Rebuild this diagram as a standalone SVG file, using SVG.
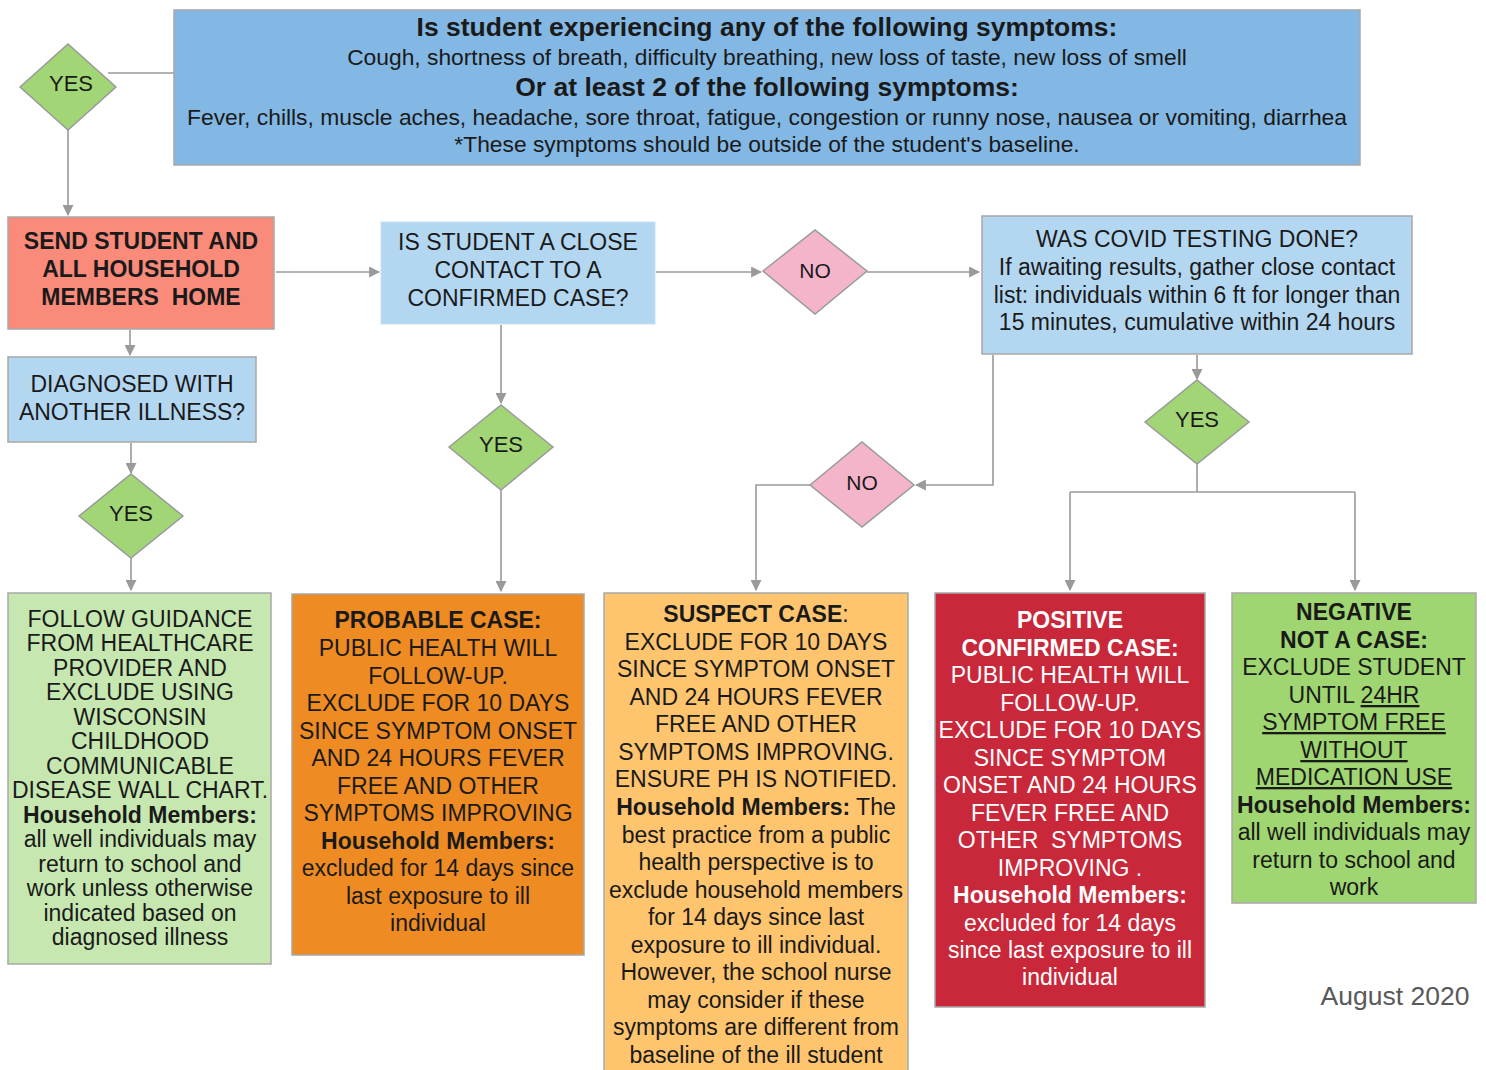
<svg xmlns="http://www.w3.org/2000/svg" width="1486" height="1070" viewBox="0 0 1486 1070">
<style>
text{font-family:"Liberation Sans",Arial,sans-serif;fill:#1a1a1a;text-anchor:middle}
.b{font-weight:bold}
.box{stroke:#a8a8a8;stroke-width:1.5}
.dia{stroke:#9a9a9a;stroke-width:1.5}
.yes{fill:#a2d576}
.no{fill:#f4b5ca}
.lb{fill:#b4d7f1}
.con{fill:none;stroke:#9a9a9a;stroke-width:1.6}
.t22{font-size:23px}
.t21{font-size:23px}
.w text,.w{fill:#ffffff}
.u{text-decoration:underline}
</style>
<defs>
<marker id="ah" viewBox="0 0 10 10" refX="9" refY="5" markerWidth="11" markerHeight="11" markerUnits="userSpaceOnUse" orient="auto">
<path d="M0,0 L10,5 L0,10 z" fill="#9a9a9a"/>
</marker>
</defs>
<rect width="1486" height="1070" fill="#ffffff"/>

<g id="connectors">
<path class="con" d="M108,73 H174"/>
<path class="con" d="M68,130 V215" marker-end="url(#ah)"/>
<path class="con" d="M276,272 H379" marker-end="url(#ah)"/>
<path class="con" d="M656,272 H761" marker-end="url(#ah)"/>
<path class="con" d="M867,272 H979" marker-end="url(#ah)"/>
<path class="con" d="M130,330 V355" marker-end="url(#ah)"/>
<path class="con" d="M131,443 V473" marker-end="url(#ah)"/>
<path class="con" d="M131,558 V590" marker-end="url(#ah)"/>
<path class="con" d="M501,325 V403" marker-end="url(#ah)"/>
<path class="con" d="M501,490 V591" marker-end="url(#ah)"/>
<path class="con" d="M1197,355 V379" marker-end="url(#ah)"/>
<path class="con" d="M1197,464 V492 M1070,492 H1355"/>
<path class="con" d="M1070,492 V590" marker-end="url(#ah)"/>
<path class="con" d="M1355,492 V590" marker-end="url(#ah)"/>
<path class="con" d="M993,355 V485 H916" marker-end="url(#ah)"/>
<path class="con" d="M810,485 H756 V590" marker-end="url(#ah)"/>
</g>

<g id="symptoms">
<rect class="box" x="174" y="10" width="1186" height="155" fill="#83b8e4"/>
<text class="b" x="767" y="36" font-size="26.5">Is student experiencing any of the following symptoms:</text>
<text x="767" y="65" font-size="22.8">Cough, shortness of breath, difficulty breathing, new loss of taste, new loss of smell</text>
<text class="b" x="767" y="96" font-size="26.5">Or at least 2 of the following symptoms:</text>
<text x="767" y="125" font-size="22" textLength="1160" lengthAdjust="spacingAndGlyphs">Fever, chills, muscle aches, headache, sore throat, fatigue, congestion or runny nose, nausea or vomiting, diarrhea</text>
<text x="767" y="152" font-size="22.8">*These symptoms should be outside of the student's baseline.</text>
</g>

<g id="yes-top">
<polygon class="dia yes" points="20,87 68,44 116,87 68,130"/>
<text x="71" y="91" font-size="22">YES</text>
</g>

<g id="send-home">
<rect class="box" x="8" y="217" width="266" height="112" fill="#fa8b7b" stroke="#f3a094"/>
<text class="b t22" x="141" y="249">SEND STUDENT AND</text>
<text class="b t22" x="141" y="277">ALL HOUSEHOLD</text>
<text class="b t22" x="141" y="305" xml:space="preserve">MEMBERS  HOME</text>
</g>

<g id="close-contact">
<rect class="lb" x="381" y="222" width="274" height="102" stroke="#c6e0f4" stroke-width="1"/>
<text class="t22" x="518" y="250">IS STUDENT A CLOSE</text>
<text class="t22" x="518" y="278">CONTACT TO A</text>
<text class="t22" x="518" y="306">CONFIRMED CASE?</text>
</g>

<g id="no-1">
<polygon class="dia no" points="763,271 815,230 867,271 815,314"/>
<text x="815" y="278" font-size="21">NO</text>
</g>

<g id="covid-testing">
<rect class="box lb" x="982" y="216" width="430" height="138"/>
<text class="t21" x="1197" y="247">WAS COVID TESTING DONE?</text>
<text class="t21" x="1197" y="275">If awaiting results, gather close contact</text>
<text class="t21" x="1197" y="303">list: individuals within 6 ft for longer than</text>
<text class="t21" x="1197" y="330">15 minutes, cumulative within 24 hours</text>
</g>

<g id="diagnosed">
<rect class="box lb" x="8" y="357" width="248" height="85"/>
<text class="t22" x="132" y="392">DIAGNOSED WITH</text>
<text class="t22" x="132" y="420">ANOTHER ILLNESS?</text>
</g>

<g id="yes-diagnosed">
<polygon class="dia yes" points="79,516 131,474 183,516 131,558"/>
<text x="131" y="521" font-size="22">YES</text>
</g>

<g id="yes-contact">
<polygon class="dia yes" points="449,447 501,405 553,447 501,490"/>
<text x="501" y="452" font-size="22">YES</text>
</g>

<g id="yes-testing">
<polygon class="dia yes" points="1145,422 1197,380 1249,422 1197,464"/>
<text x="1197" y="427" font-size="22">YES</text>
</g>

<g id="no-2">
<polygon class="dia no" points="810,485 862,442 914,485 862,527"/>
<text x="862" y="490" font-size="21">NO</text>
</g>

<g id="other-illness">
<rect class="box" x="8" y="593" width="263" height="371" fill="#c6e8b0"/>
<text class="t22" x="140" y="627">FOLLOW GUIDANCE</text>
<text class="t22" x="140" y="651">FROM HEALTHCARE</text>
<text class="t22" x="140" y="676">PROVIDER AND</text>
<text class="t22" x="140" y="700">EXCLUDE USING</text>
<text class="t22" x="140" y="725">WISCONSIN</text>
<text class="t22" x="140" y="749">CHILDHOOD</text>
<text class="t22" x="140" y="774">COMMUNICABLE</text>
<text class="t22" x="140" y="798">DISEASE WALL CHART.</text>
<text class="t22 b" x="140" y="823">Household Members:</text>
<text class="t22" x="140" y="847">all well individuals may</text>
<text class="t22" x="140" y="872">return to school and</text>
<text class="t22" x="140" y="896">work unless otherwise</text>
<text class="t22" x="140" y="921">indicated based on</text>
<text class="t22" x="140" y="945">diagnosed illness</text>
</g>

<g id="probable">
<rect class="box" x="292" y="594" width="292" height="361" fill="#ee8b22"/>
<text class="t22 b" x="438" y="628">PROBABLE CASE:</text>
<text class="t22" x="438" y="656">PUBLIC HEALTH WILL</text>
<text class="t22" x="438" y="684">FOLLOW-UP.</text>
<text class="t22" x="438" y="711">EXCLUDE FOR 10 DAYS</text>
<text class="t22" x="438" y="739">SINCE SYMPTOM ONSET</text>
<text class="t22" x="438" y="766">AND 24 HOURS FEVER</text>
<text class="t22" x="438" y="794">FREE AND OTHER</text>
<text class="t22" x="438" y="821">SYMPTOMS IMPROVING</text>
<text class="t22 b" x="438" y="849">Household Members:</text>
<text class="t22" x="438" y="876">excluded for 14 days since</text>
<text class="t22" x="438" y="904">last exposure to ill</text>
<text class="t22" x="438" y="931">individual</text>
</g>

<g id="suspect">
<rect class="box" x="604" y="593" width="304" height="490" fill="#fec46e"/>
<text class="t22" x="756" y="622"><tspan class="b">SUSPECT CASE</tspan>:</text>
<text class="t22" x="756" y="650">EXCLUDE FOR 10 DAYS</text>
<text class="t22" x="756" y="677">SINCE SYMPTOM ONSET</text>
<text class="t22" x="756" y="705">AND 24 HOURS FEVER</text>
<text class="t22" x="756" y="732">FREE AND OTHER</text>
<text class="t22" x="756" y="760">SYMPTOMS IMPROVING.</text>
<text class="t22" x="756" y="787">ENSURE PH IS NOTIFIED.</text>
<text class="t22" x="756" y="815"><tspan class="b">Household Members:</tspan> The</text>
<text class="t22" x="756" y="843">best practice from a public</text>
<text class="t22" x="756" y="870">health perspective is to</text>
<text class="t22" x="756" y="898">exclude household members</text>
<text class="t22" x="756" y="925">for 14 days since last</text>
<text class="t22" x="756" y="953">exposure to ill individual.</text>
<text class="t22" x="756" y="980">However, the school nurse</text>
<text class="t22" x="756" y="1008">may consider if these</text>
<text class="t22" x="756" y="1035">symptoms are different from</text>
<text class="t22" x="756" y="1063">baseline of the ill student</text>
</g>

<g id="positive" class="w">
<rect class="box" x="935" y="593" width="270" height="414" fill="#c8283a"/>
<text class="t22 b w" x="1070" y="628">POSITIVE</text>
<text class="t22 b w" x="1070" y="656">CONFIRMED CASE:</text>
<text class="t22 w" x="1070" y="683">PUBLIC HEALTH WILL</text>
<text class="t22 w" x="1070" y="711">FOLLOW-UP.</text>
<text class="t22 w" x="1070" y="738">EXCLUDE FOR 10 DAYS</text>
<text class="t22 w" x="1070" y="766">SINCE SYMPTOM</text>
<text class="t22 w" x="1070" y="793">ONSET AND 24 HOURS</text>
<text class="t22 w" x="1070" y="821">FEVER FREE AND</text>
<text class="t22 w" x="1070" y="848" xml:space="preserve">OTHER  SYMPTOMS</text>
<text class="t22 w" x="1070" y="876">IMPROVING .</text>
<text class="t22 b w" x="1070" y="903">Household Members:</text>
<text class="t22 w" x="1070" y="931">excluded for 14 days</text>
<text class="t22 w" x="1070" y="958">since last exposure to ill</text>
<text class="t22 w" x="1070" y="985">individual</text>
</g>

<g id="negative">
<rect class="box" x="1232" y="593" width="244" height="310" fill="#9fd672"/>
<text class="t22 b" x="1354" y="620">NEGATIVE</text>
<text class="t22 b" x="1354" y="648">NOT A CASE:</text>
<text class="t22" x="1354" y="675">EXCLUDE STUDENT</text>
<text class="t22" x="1354" y="703">UNTIL <tspan class="u">24HR</tspan></text>
<text class="t22 u" x="1354" y="730">SYMPTOM FREE</text>
<text class="t22 u" x="1354" y="758">WITHOUT</text>
<text class="t22 u" x="1354" y="785">MEDICATION USE</text>
<text class="t22 b" x="1354" y="813">Household Members:</text>
<text class="t22" x="1354" y="840">all well individuals may</text>
<text class="t22" x="1354" y="868">return to school and</text>
<text class="t22" x="1354" y="895">work</text>
</g>

<text x="1395" y="1005" font-size="26.5" style="fill:#595959">August 2020</text>
</svg>
